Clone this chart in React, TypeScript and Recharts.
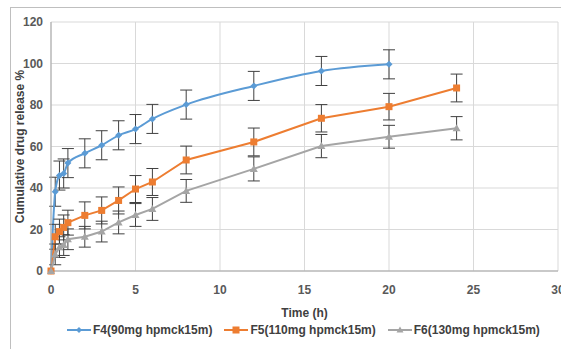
import React from 'react'
import {
  LineChart,
  Line,
  XAxis,
  YAxis,
  CartesianGrid,
  ErrorBar,
} from 'recharts'

const times = [0, 0.25, 0.5, 0.75, 1, 2, 3, 4, 5, 6, 8, 12, 16, 20, 24]
const f4 = [0, 38.2, 46, 47, 52, 56.7, 60.6, 65.4, 68.4, 73.3, 80.2, 89.2, 96.4, 99.6, null]
const f5 = [0, 16.5, 19, 21, 23.3, 26.8, 29.2, 34, 39.5, 42.9, 53.5, 62.2, 73.6, 79.2, 88.2]
const f6 = [0, 8, 11.5, 12.5, 15.3, 16.5, 19, 23.4, 27, 29.9, 38.6, 49.2, 60.2, 64.7, 68.8]
const f4Err = [0, 7, 7, 7, 7, 7, 7, 7, 7, 7, 7, 7, 7, 7, null]
const f5Err = [0, 6, 6, 6, 6, 6.5, 6.5, 6.5, 6.5, 6.5, 6.7, 6.7, 6.6, 6.4, 6.7]
const f6Err = [0, 5, 5, 5, 5, 5, 5, 5.5, 5.5, 5.5, 5.5, 5.8, 5.6, 5.5, 5.6]
const xTicks = [0, 5, 10, 15, 20, 25, 30]
const yTicks = [0, 20, 40, 60, 80, 100, 120]
const seriesNames = ['F4(90mg hpmck15m)', 'F5(110mg hpmck15m)', 'F6(130mg hpmck15m)']

const data = times.map((t, i) => ({
  time: t,
  f4: f4[i],
  f5: f5[i],
  f6: f6[i],
  f4Err: f4Err[i],
  f5Err: f5Err[i],
  f6Err: f6Err[i],
}))

const BLUE = '#5B9BD5'
const ORANGE = '#ED7D31'
const GREY = '#A5A5A5'
const FONT = '"Liberation Sans", Arial, sans-serif'

const Diamond = (props: any) => {
  const { cx, cy, index } = props
  if (cx == null || cy == null) return <g key={`d${index}`} />
  const r = 3.5
  return (
    <path
      key={`d${index}`}
      d={`M${cx},${cy - r}L${cx + r},${cy}L${cx},${cy + r}L${cx - r},${cy}Z`}
      fill={BLUE}
    />
  )
}

const Square = (props: any) => {
  const { cx, cy, index } = props
  if (cx == null || cy == null) return <g key={`s${index}`} />
  return <rect key={`s${index}`} x={cx - 3.5} y={cy - 3.5} width={7} height={7} fill={ORANGE} />
}

const Triangle = (props: any) => {
  const { cx, cy, index } = props
  if (cx == null || cy == null) return <g key={`t${index}`} />
  return (
    <path
      key={`t${index}`}
      d={`M${cx},${cy - 4}L${cx + 4},${cy + 3}L${cx - 4},${cy + 3}Z`}
      fill={GREY}
    />
  )
}

function LegendIcon({ color, kind }: { color: string; kind: string }) {
  return (
    <svg width={24} height={10} style={{ marginRight: 2 }}>
      <line x1={0} y1={5} x2={24} y2={5} stroke={color} strokeWidth={2} />
      {kind === 'diamond' && <path d="M12,2L15,5L12,8L9,5Z" fill={color} />}
      {kind === 'square' && <rect x={8.5} y={1.5} width={7} height={7} fill={color} />}
      {kind === 'triangle' && <path d="M12,1.5L15.5,7.5L8.5,7.5Z" fill={color} />}
    </svg>
  )
}

const legendItems = [
  { name: seriesNames[0], color: BLUE, kind: 'diamond' },
  { name: seriesNames[1], color: ORANGE, kind: 'square' },
  { name: seriesNames[2], color: GREY, kind: 'triangle' },
]

const tickStyle = { fontSize: 12, fontWeight: 700, fill: '#595959', fontFamily: FONT }

export default function App() {
  return (
    <div
      style={{
        position: 'absolute',
        left: 0,
        top: 0,
        width: 561,
        height: 349,
        overflow: 'hidden',
        background: '#fff',
        fontFamily: FONT,
      }}
    >
      <div
        style={{
          position: 'absolute',
          left: 10,
          top: 7,
          width: 600,
          height: 400,
          border: '1px solid #BFBFBF',
        }}
      />
      <div style={{ position: 'absolute', left: 0, top: 0 }}>
        <LineChart
          width={561}
          height={349}
          data={data}
          margin={{ top: 22, right: 3, left: 10, bottom: 48 }}
        >
          <CartesianGrid stroke="#D9D9D9" strokeWidth={1} />
          <XAxis
            dataKey="time"
            type="number"
            domain={[0, 30]}
            ticks={xTicks}
            tickLine={false}
            tickMargin={8}
            stroke="#A6A6A6"
            tick={tickStyle}
            interval={0}
            label={{
              value: 'Time (h)',
              position: 'bottom',
              offset: 7,
              style: { fontSize: 12, fontWeight: 700, fill: '#404040', fontFamily: FONT },
            }}
          />
          <YAxis
            type="number"
            domain={[0, 120]}
            ticks={yTicks}
            width={41}
            tickLine={false}
            stroke="#A6A6A6"
            tick={tickStyle}
            interval={0}
            label={{
              value: 'Cumulative drug release %',
              angle: -90,
              position: 'insideLeft',
              offset: 10,
              style: {
                fontSize: 12,
                fontWeight: 700,
                fill: '#404040',
                fontFamily: FONT,
                textAnchor: 'middle',
              },
            }}
          />
          <Line
            type="monotone"
            dataKey="f4"
            name={seriesNames[0]}
            stroke={BLUE}
            strokeWidth={2}
            dot={Diamond}
            isAnimationActive={false}
          >
            <ErrorBar dataKey="f4Err" direction="y" width={6} stroke="#404040" strokeWidth={1} />
          </Line>
          <Line
            type="linear"
            dataKey="f5"
            name={seriesNames[1]}
            stroke={ORANGE}
            strokeWidth={2}
            dot={Square}
            isAnimationActive={false}
          >
            <ErrorBar dataKey="f5Err" direction="y" width={6} stroke="#404040" strokeWidth={1} />
          </Line>
          <Line
            type="linear"
            dataKey="f6"
            name={seriesNames[2]}
            stroke={GREY}
            strokeWidth={2}
            dot={Triangle}
            isAnimationActive={false}
          >
            <ErrorBar dataKey="f6Err" direction="y" width={6} stroke="#404040" strokeWidth={1} />
          </Line>
        </LineChart>
      </div>
      <div
        style={{
          position: 'absolute',
          left: 67,
          top: 323,
          display: 'flex',
          alignItems: 'center',
          gap: 12,
          fontSize: 12,
          fontWeight: 700,
          color: '#404040',
          whiteSpace: 'nowrap',
        }}
      >
        {legendItems.map((it) => (
          <div key={it.name} style={{ display: 'flex', alignItems: 'center' }}>
            <LegendIcon color={it.color} kind={it.kind} />
            <span>{it.name}</span>
          </div>
        ))}
      </div>
    </div>
  )
}
